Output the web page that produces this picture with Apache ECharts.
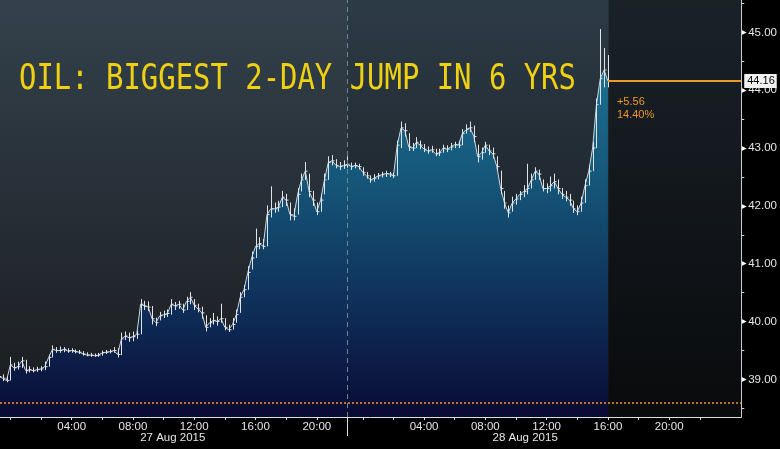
<!DOCTYPE html>
<html>
<head>
<meta charset="utf-8">
<script src="https://cdn.jsdelivr.net/npm/echarts@6/dist/echarts.min.js"></script>
<style>
  html, body { margin: 0; padding: 0; background: #000; }
  #main { width: 780px; height: 449px; }
</style>
</head>
<body>
<div id="main"></div>
<script>
// WTI 15-min bars, 27-28 Aug 2015 (session hours, 22:00-23:00 break removed)
const startHour = 0.25;
const stepHour = 0.25;

const closes = [
  39.05, 39.02, 38.98, 39.25, 39.20, 39.22, 39.32, 39.15, 39.17, 39.15,
  39.17, 39.18, 39.22, 39.38, 39.52, 39.50, 39.50, 39.52, 39.49, 39.50,
  39.48, 39.47, 39.44, 39.42, 39.42, 39.41, 39.42, 39.46, 39.47, 39.48,
  39.50, 39.43, 39.70, 39.75, 39.72, 39.74, 39.78, 40.30, 40.27, 40.25,
  40.05, 39.98, 40.10, 40.12, 40.14, 40.30, 40.27, 40.30, 40.20, 40.35,
  40.42, 40.28, 40.22, 40.15, 39.90, 39.98, 40.02, 40.00, 40.05, 39.90,
  39.86, 39.95, 40.12, 40.42, 40.55, 40.85, 41.10, 41.30, 41.35, 41.30,
  41.85, 41.95, 41.95, 41.98, 42.15, 42.10, 41.85, 41.82, 42.20, 42.45,
  42.60, 42.25, 42.10, 41.90, 42.10, 42.45, 42.75, 42.78, 42.70, 42.68,
  42.70, 42.72, 42.68, 42.70, 42.68, 42.58, 42.52, 42.45, 42.48, 42.52,
  42.54, 42.56, 42.55, 42.52, 43.05, 43.35, 43.30, 43.02, 43.00, 43.10,
  43.05, 42.98, 42.95, 42.97, 42.90, 42.92, 43.00, 42.98, 43.02, 43.06,
  43.05, 43.25, 43.32, 43.35, 43.20, 42.85, 42.92, 43.05, 42.95, 42.90,
  42.68, 42.30, 42.05, 41.88, 42.05, 42.12, 42.20, 42.25, 42.30, 42.45,
  42.60, 42.55, 42.30, 42.30, 42.35, 42.42, 42.30, 42.20, 42.15, 42.10,
  41.95, 41.90, 42.05, 42.35, 42.60, 43.00, 43.75, 44.20, 44.35, 44.16
];
const highs = [
  39.10, 39.08, 39.05, 39.38, 39.28, 39.30, 39.38, 39.33, 39.22, 39.20,
  39.21, 39.22, 39.30, 39.42, 39.58, 39.55, 39.56, 39.55, 39.53, 39.53,
  39.51, 39.50, 39.48, 39.46, 39.45, 39.44, 39.45, 39.49, 39.50, 39.51,
  39.55, 39.53, 39.80, 39.82, 39.80, 39.82, 39.84, 40.38, 40.35, 40.34,
  40.26, 40.06, 40.16, 40.18, 40.20, 40.38, 40.33, 40.35, 40.30, 40.42,
  40.50, 40.38, 40.30, 40.25, 40.10, 40.05, 40.14, 40.08, 40.30, 40.05,
  39.94, 40.05, 40.20, 40.50, 40.62, 40.95, 41.20, 41.60, 41.45, 41.42,
  42.00, 42.33, 42.05, 42.08, 42.25, 42.20, 42.05, 41.95, 42.30, 42.55,
  42.75, 42.55, 42.25, 42.05, 42.20, 42.55, 42.85, 42.87, 42.80, 42.75,
  42.78, 42.85, 42.74, 42.74, 42.72, 42.66, 42.58, 42.52, 42.54, 42.56,
  42.58, 42.60, 42.58, 42.56, 43.12, 43.45, 43.42, 43.25, 43.08, 43.18,
  43.12, 43.06, 43.02, 43.03, 42.98, 42.98, 43.05, 43.04, 43.08, 43.10,
  43.12, 43.32, 43.40, 43.45, 43.38, 43.05, 43.00, 43.10, 43.05, 43.00,
  42.85, 42.60, 42.25, 42.00, 42.15, 42.20, 42.25, 42.35, 42.72, 42.55,
  42.66, 42.62, 42.45, 42.38, 42.50, 42.55, 42.45, 42.30, 42.25, 42.20,
  42.08, 42.00, 42.15, 42.45, 42.70, 43.10, 43.85, 45.05, 44.72, 44.60
];
const lows = [
  39.00, 38.97, 38.95, 38.98, 39.15, 39.17, 39.20, 39.10, 39.12, 39.12,
  39.13, 39.14, 39.16, 39.22, 39.38, 39.46, 39.46, 39.47, 39.46, 39.46,
  39.45, 39.44, 39.41, 39.40, 39.39, 39.39, 39.39, 39.41, 39.44, 39.45,
  39.46, 39.38, 39.42, 39.68, 39.65, 39.66, 39.70, 39.78, 40.20, 40.18,
  39.95, 39.92, 40.02, 40.06, 40.08, 40.12, 40.20, 40.22, 40.15, 40.20,
  40.30, 40.20, 40.16, 40.05, 39.83, 39.90, 39.95, 39.93, 39.98, 39.85,
  39.82, 39.86, 39.98, 40.15, 40.42, 40.55, 40.90, 41.10, 41.25, 41.25,
  41.30, 41.80, 41.88, 41.90, 41.98, 42.00, 41.75, 41.75, 41.85, 42.25,
  42.45, 42.15, 42.00, 41.84, 41.90, 42.20, 42.45, 42.70, 42.65, 42.62,
  42.64, 42.66, 42.62, 42.65, 42.63, 42.52, 42.47, 42.40, 42.42, 42.46,
  42.49, 42.50, 42.50, 42.48, 42.52, 43.00, 43.20, 42.95, 42.95, 43.00,
  42.98, 42.93, 42.90, 42.92, 42.86, 42.86, 42.92, 42.93, 42.96, 43.00,
  43.00, 43.05, 43.25, 43.28, 43.10, 42.75, 42.80, 42.92, 42.88, 42.82,
  42.60, 42.20, 41.95, 41.80, 41.90, 42.02, 42.10, 42.15, 42.20, 42.30,
  42.45, 42.45, 42.25, 42.22, 42.25, 42.30, 42.20, 42.12, 42.08, 42.00,
  41.88, 41.84, 41.90, 42.05, 42.35, 42.60, 43.00, 43.75, 44.05, 44.05
];

const prevClose = 38.60;
const sessionBreak = 23;           // 22:00 day 1 / 23:00 day 2
const xMin = 0.325, xMax = 48.7;
const yMin = 38.35, yMax = 45.56;

const xTickPos = [1, 3, 5, 7, 9, 11, 13, 15, 17, 19, 21, 24, 26, 28, 30, 32, 34, 36, 38, 40, 42, 44, 46];
const xLabelPos = [5, 9, 13, 17, 21, 28, 32, 36, 40, 44];
const xLabelText = ['04:00', '08:00', '12:00', '16:00', '20:00', '04:00', '08:00', '12:00', '16:00', '20:00'];
const datePos = [11.6, 34.6];
const dateText = ['27 Aug 2015', '28 Aug 2015'];
const yLabelVals = [39, 40, 41, 42, 43, 44, 45];
const yTickVals = [38.5, 39, 39.5, 40, 40.5, 41, 41.5, 42, 42.5, 43, 43.5, 44, 44.5, 45, 45.5];

const times = closes.map((c, i) => startHour + i * stepHour);
const lastT = times[times.length - 1];
const last = closes[closes.length - 1];
const chg = last - prevClose;

const orange = '#f0962e';
const txt = '#e6e6e6';

let chart = echarts.init(document.getElementById('main'));

function renderBar(params, api) {
  const t = api.value(0);
  const lo = api.coord([t, api.value(1)]);
  const hi = api.coord([t, api.value(2)]);
  const cl = api.coord([t, api.value(3)]);
  const x = Math.round(lo[0]) + 0.5;
  return {
    type: 'group',
    children: [
      { type: 'line', shape: { x1: x, y1: lo[1], x2: x, y2: hi[1] - 0.5 },
        style: { stroke: '#dfe4e8', lineWidth: 1 } },
      { type: 'line', shape: { x1: x, y1: cl[1], x2: x + 2, y2: cl[1] },
        style: { stroke: '#dfe4e8', lineWidth: 1 } }
    ]
  };
}

// darker band after the last print
function renderFuture(params, api) {
  const a = api.coord([api.value(0), yMax]);
  const b = api.coord([api.value(1), yMin]);
  return {
    type: 'rect',
    shape: { x: a[0], y: a[1], width: b[0] - a[0], height: b[1] - a[1] },
    style: { fill: 'rgba(0,0,0,0.42)' }
  };
}

let option = {
  backgroundColor: '#000',
  animation: false,
  grid: {
    left: 0, right: 35, top: 0, bottom: 32,
    show: true, borderWidth: 0,
    backgroundColor: new echarts.graphic.LinearGradient(0, 0, 0, 1, [
      { offset: 0, color: '#2d3b46' },
      { offset: 0.5, color: '#1f272f' },
      { offset: 1, color: '#111316' }
    ])
  },
  xAxis: [
    {
      type: 'value', min: xMin, max: xMax,
      splitLine: { show: false },
      axisLine: { lineStyle: { color: '#e0e0e0', width: 1 } },
      axisTick: { customValues: xTickPos, length: 3, lineStyle: { color: '#e0e0e0' } },
      axisLabel: {
        customValues: xLabelPos, color: txt, fontSize: 11.5, margin: 4,
        fontFamily: 'Liberation Sans',
        formatter: v => xLabelText[xLabelPos.indexOf(v)]
      }
    },
    {
      type: 'value', min: xMin, max: xMax, position: 'bottom',
      splitLine: { show: false }, axisLine: { show: false }, axisTick: { show: false },
      axisLabel: {
        customValues: datePos, color: txt, fontSize: 11.5, margin: 15,
        fontFamily: 'Liberation Sans',
        formatter: v => dateText[datePos.indexOf(v)]
      }
    }
  ],
  yAxis: {
    type: 'value', position: 'right', min: yMin, max: yMax,
    splitLine: { show: false },
    axisLine: { show: true, lineStyle: { color: '#e0e0e0', width: 1 } },
    axisTick: { customValues: yTickVals, length: 3, lineStyle: { color: '#e0e0e0' } },
    axisLabel: {
      customValues: yLabelVals, margin: 1, color: txt, fontSize: 11.5,
      fontFamily: 'Liberation Sans',
      formatter: v => '{m|▶}' + v.toFixed(2),
      rich: { m: { fontSize: 6, color: '#ffffff', padding: [0, 1, 0, 0] } }
    }
  },
  series: [
    {
      type: 'custom',
      renderItem: renderFuture,
      data: [[lastT + 0.05, xMax]],
      silent: true,
      z: 1
    },
    {
      type: 'line',
      data: closes.map((c, i) => [times[i], c]),
      symbol: 'none',
      lineStyle: { color: '#cdd5da', width: 1 },
      areaStyle: {
        color: {
          type: 'linear', x: 0, y: 30, x2: 0, y2: 417, global: true,
          colorStops: [
            { offset: 0, color: '#1e7898' },
            { offset: 0.4, color: '#155578' },
            { offset: 0.75, color: '#0e2a55' },
            { offset: 1, color: '#090b33' }
          ]
        },
        opacity: 1
      },
      markArea: {
        silent: true,
        data: [
          [{ xAxis: xMin, itemStyle: { color: 'rgba(255,255,255,0.035)' } }, { xAxis: sessionBreak }]
        ]
      },
      markLine: {
        silent: true,
        symbol: 'none',
        data: [
          { yAxis: prevClose, lineStyle: { color: orange, type: [2, 2], width: 1.5 }, label: { show: false } },
          { xAxis: sessionBreak, lineStyle: { color: '#6f8696', type: [5, 4], width: 1 }, label: { show: false } }
        ]
      },
      markPoint: {
        silent: true,
        symbol: 'circle', symbolSize: 0,
        data: [{
          coord: [lastT, last],
          label: {
            show: true, position: 'right', offset: [4, 14],
            align: 'left', verticalAlign: 'top', lineHeight: 13,
            color: orange, fontSize: 11, fontFamily: 'Liberation Sans',
            formatter: '+' + chg.toFixed(2) + '\n' + (chg / prevClose * 100).toFixed(2) + '%'
          }
        }]
      },
      z: 2
    },
    {
      type: 'custom',
      renderItem: renderBar,
      data: closes.map((c, i) => [times[i], lows[i], highs[i], c]),
      z: 3
    }
  ],
  graphic: [
    {
      type: 'text', x: 19, y: 80, scaleX: 0.803, z: 100,
      style: {
        text: 'OIL: BIGGEST 2-DAY JUMP IN 6 YRS',
        fontFamily: 'DejaVu Sans Mono', fontSize: 36,
        fill: '#efd112', verticalAlign: 'middle'
      }
    }
  ]
};

chart.setOption(option);

// pixel positions taken from the axes once they are laid out
const bx = Math.round(chart.convertToPixel({ xAxisIndex: 0 }, sessionBreak)) + 0.5;
const by = chart.convertToPixel({ yAxisIndex: 0 }, yMin);
const lx1 = chart.convertToPixel({ xAxisIndex: 0 }, lastT);
const lx2 = chart.convertToPixel({ xAxisIndex: 0 }, xMax);
const ly = Math.round(chart.convertToPixel({ yAxisIndex: 0 }, last));

chart.setOption({
  graphic: [
    option.graphic[0],
    // long session-break tick below the x axis
    { type: 'line', z: 100, shape: { x1: bx, y1: by, x2: bx, y2: by + 19 },
      style: { stroke: '#e0e0e0', lineWidth: 1 } },
    // last-price line out to the axis (2px so the colour survives compression)
    { type: 'rect', z: 100, shape: { x: lx1, y: ly - 1, width: lx2 - lx1, height: 2 },
      style: { fill: orange } },
    // price tag on the axis
    { type: 'text', z: 101, x: lx2 + 3, y: ly,
      style: {
        text: last.toFixed(2), fill: '#000', backgroundColor: '#f0f0f0',
        padding: [2, 2, 1, 3], fontSize: 11, fontFamily: 'Liberation Sans',
        verticalAlign: 'middle', align: 'left'
      } }
  ]
});
</script>
</body>
</html>
